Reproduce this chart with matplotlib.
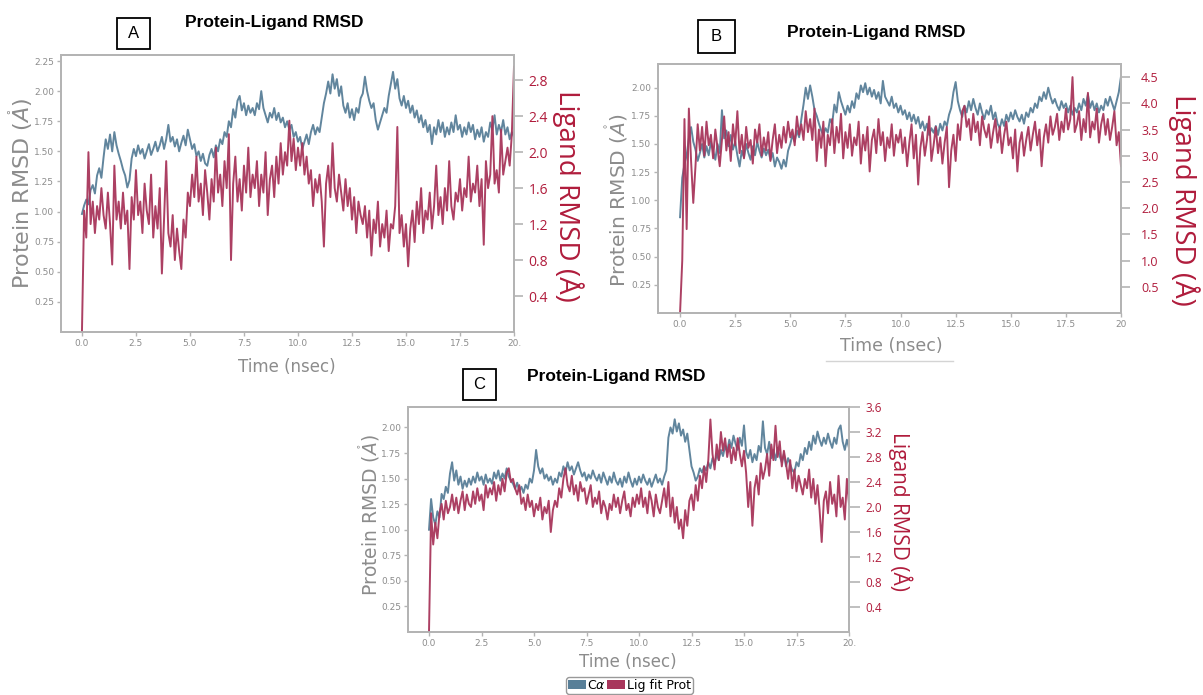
import numpy as np
import matplotlib.pyplot as plt
from matplotlib.patches import Patch, Rectangle
from matplotlib.lines import Line2D
from matplotlib import font_manager


########################  data  #####################
# one value every 0.1 ns, 0 .. 20 ns

a_calpha = [0.98, 1.05, 1.10, 1.06, 1.18, 1.22, 1.15, 1.30, 1.36, 1.28, 1.45, 1.60, 1.52, 1.64, 1.50, 1.66, 1.55, 1.48, 1.42, 1.35,
            1.30, 1.20, 1.26, 1.44, 1.52, 1.46, 1.55, 1.48, 1.52, 1.44, 1.50, 1.56, 1.47, 1.52, 1.58, 1.50, 1.55, 1.62, 1.52, 1.60,
            1.72, 1.58, 1.62, 1.54, 1.60, 1.50, 1.57, 1.63, 1.55, 1.68, 1.60, 1.52, 1.56, 1.46, 1.50, 1.42, 1.48, 1.40, 1.38, 1.47,
            1.52, 1.45, 1.55, 1.50, 1.60, 1.56, 1.66, 1.62, 1.75, 1.70, 1.85, 1.78, 1.92, 1.96, 1.84, 1.90, 1.80, 1.88, 1.82, 1.86,
            1.80, 1.90, 1.85, 2.00, 1.86, 1.80, 1.74, 1.82, 1.78, 1.86, 1.76, 1.82, 1.74, 1.78, 1.70, 1.75, 1.68, 1.72, 1.62, 1.66,
            1.58, 1.62, 1.52, 1.58, 1.64, 1.56, 1.66, 1.72, 1.64, 1.70, 1.66, 1.78, 1.90, 1.98, 2.08, 1.98, 2.14, 2.02, 2.10, 1.96,
            2.04, 1.88, 1.82, 1.90, 1.78, 1.85, 1.76, 1.86, 1.82, 1.94, 1.98, 2.12, 2.00, 1.92, 1.86, 1.90, 1.76, 1.68, 1.74, 1.80,
            1.86, 1.82, 1.96, 2.06, 2.16, 2.02, 2.10, 1.94, 1.88, 1.96, 1.86, 1.92, 1.82, 1.88, 1.78, 1.84, 1.74, 1.80, 1.70, 1.76,
            1.66, 1.72, 1.56, 1.70, 1.64, 1.76, 1.66, 1.74, 1.62, 1.70, 1.64, 1.74, 1.66, 1.80, 1.68, 1.72, 1.62, 1.70, 1.64, 1.74,
            1.66, 1.72, 1.60, 1.68, 1.62, 1.70, 1.58, 1.66, 1.62, 1.74, 1.68, 1.80, 1.64, 1.72, 1.66, 1.76, 1.64, 1.70, 1.60, 1.66,
            1.62]

a_ligand = [0.00, 1.35, 1.05, 2.00, 1.20, 1.45, 1.10, 1.40, 1.25, 1.60, 1.30, 1.15, 1.55, 1.20, 0.75, 1.85, 1.25, 1.45, 1.15, 1.55,
            1.20, 1.35, 0.70, 1.50, 1.25, 1.80, 1.30, 1.45, 1.10, 1.65, 1.35, 1.20, 1.75, 1.05, 1.40, 1.15, 1.60, 0.65, 1.25, 1.90,
            1.10, 0.95, 1.30, 0.80, 1.15, 0.90, 0.70, 1.25, 1.05, 1.55, 1.40, 1.75, 1.50, 1.95, 1.45, 1.65, 1.30, 1.80, 1.55, 1.25,
            1.70, 1.45, 2.05, 1.55, 1.75, 1.40, 1.90, 1.60, 2.20, 0.80, 1.65, 1.95, 1.45, 1.70, 1.35, 1.85, 1.55, 2.05, 1.50, 1.75,
            1.60, 1.90, 1.40, 1.75, 1.55, 2.00, 1.30, 1.70, 1.85, 1.50, 1.95, 1.65, 2.10, 1.75, 2.00, 1.85, 2.35, 1.90, 2.15, 1.80,
            2.05, 1.85, 2.10, 1.75, 1.95, 1.65, 1.80, 1.40, 1.70, 1.55, 1.75, 1.45, 0.95, 1.65, 1.85, 1.50, 2.10, 1.60, 1.45, 1.75,
            1.55, 1.35, 1.70, 1.40, 1.60, 1.25, 1.50, 1.10, 1.45, 1.30, 1.20, 1.40, 1.05, 1.35, 0.85, 1.25, 1.10, 1.45, 0.95, 1.20,
            1.05, 1.35, 0.90, 1.20, 1.15, 1.40, 2.28, 1.10, 1.30, 0.95, 1.20, 0.73, 1.15, 1.35, 1.00, 1.45, 1.20, 1.60, 1.10, 1.35,
            1.25, 1.55, 1.15, 1.40, 1.85, 1.30, 1.50, 1.20, 1.60, 1.35, 1.90, 1.40, 1.25, 1.55, 1.45, 1.70, 1.35, 1.60, 1.50, 1.95,
            1.45, 1.65, 1.55, 1.85, 1.40, 1.70, 0.97, 1.90, 1.60, 1.75, 2.40, 1.65, 1.80, 1.55, 2.25, 1.75, 1.90, 2.05, 1.85, 2.20,
            2.95]

b_calpha = [0.85, 1.20, 1.32, 1.40, 1.55, 1.65, 1.52, 1.45, 1.35, 1.42, 1.50, 1.38, 1.48, 1.40, 1.52, 1.44, 1.36, 1.50, 1.42, 1.80,
            1.55, 1.62, 1.48, 1.58, 1.45, 1.52, 1.40, 1.30, 1.44, 1.38, 1.50, 1.42, 1.36, 1.48, 1.40, 1.52, 1.44, 1.38, 1.46, 1.40,
            1.45, 1.36, 1.42, 1.30, 1.38, 1.34, 1.28, 1.36, 1.30, 1.44, 1.50, 1.58, 1.52, 1.62, 1.56, 1.72, 1.85, 2.00, 1.90, 2.02,
            1.92, 1.80, 1.75, 1.68, 1.62, 1.58, 1.64, 1.60, 1.72, 1.68, 1.85, 1.78, 1.96, 1.88, 1.82, 1.76, 1.84, 1.78, 1.88, 1.82,
            1.95, 1.90, 2.02, 1.96, 2.04, 1.94, 2.00, 1.92, 1.98, 1.90, 1.96, 1.86, 2.06, 1.92, 1.88, 1.84, 1.92, 1.82, 1.86, 1.78,
            1.84, 1.76, 1.80, 1.72, 1.78, 1.70, 1.76, 1.68, 1.74, 1.64, 1.70, 1.62, 1.68, 1.58, 1.64, 1.60, 1.66, 1.58, 1.68, 1.62,
            1.70, 1.66, 1.76, 1.82, 1.96, 2.05, 1.88, 1.80, 1.74, 1.84, 1.78, 1.88, 1.80, 1.90, 1.82, 1.76, 1.86, 1.78, 1.72, 1.80,
            1.76, 1.84, 1.72, 1.78, 1.68, 1.64, 1.72, 1.66, 1.76, 1.70, 1.78, 1.72, 1.80, 1.74, 1.70, 1.76, 1.68, 1.78, 1.74, 1.82,
            1.78, 1.86, 1.82, 1.92, 1.88, 1.96, 1.90, 2.00, 1.92, 1.86, 1.90, 1.84, 1.80, 1.88, 1.82, 1.86, 1.78, 1.84, 1.76, 1.82,
            1.78, 1.86, 1.80, 1.90, 1.84, 1.94, 1.82, 1.88, 1.80, 1.86, 1.78, 1.84, 1.80, 1.90, 1.84, 1.92, 1.86, 1.80, 1.88, 1.96,
            2.10]

b_ligand = [0.00, 1.00, 3.70, 1.60, 3.90, 2.90, 2.10, 2.80, 3.60, 3.10, 3.55, 3.00, 3.65, 3.20, 3.40, 2.95, 3.50, 3.15, 2.80, 3.30,
            3.75, 3.10, 3.45, 2.90, 3.60, 3.20, 3.85, 3.05, 3.40, 2.95, 3.55, 3.15, 3.30, 2.85, 3.50, 3.25, 3.60, 3.00, 3.35, 3.10,
            3.45, 2.90, 3.30, 3.60, 3.05, 3.40, 3.15, 3.55, 3.25, 3.65, 3.35, 3.50, 3.20, 3.75, 3.40, 3.60, 3.30, 3.85, 3.45, 3.70,
            3.30, 3.90, 2.90, 3.50, 3.15, 3.65, 2.80, 3.40, 3.20, 3.70, 3.05, 3.55, 3.25, 3.80, 2.95, 3.45, 3.15, 3.60, 3.00, 3.35,
            3.20, 3.65, 2.85, 3.40, 3.10, 3.55, 2.70, 3.30, 3.50, 3.05, 3.70, 3.20, 3.45, 2.90, 3.35, 3.15, 3.60, 3.00, 3.40, 3.25,
            3.50, 3.05, 3.35, 2.80, 3.25, 3.60, 2.95, 3.40, 2.45, 3.15, 3.45, 3.00, 3.30, 3.75, 2.90, 3.20, 3.55, 3.05, 3.35, 2.85,
            3.25, 3.55, 2.40, 3.10, 3.40, 2.90, 3.60, 3.30, 3.85, 3.95, 3.55, 3.70, 3.30, 3.80, 3.45, 3.65, 3.20, 3.75, 3.50, 3.35,
            3.60, 3.15, 3.45, 3.70, 3.25, 3.55, 3.05, 3.40, 3.65, 3.20, 3.35, 2.95, 3.50, 2.70, 3.25, 3.45, 3.00, 3.30, 3.55, 3.10,
            3.40, 3.65, 3.20, 3.50, 2.80, 3.35, 3.60, 3.25, 3.75, 3.40, 3.55, 3.80, 3.30, 3.65, 3.45, 3.90, 3.50, 3.70, 4.50, 3.45,
            3.60, 3.85, 3.30, 3.70, 3.45, 4.20, 3.35, 3.65, 3.50, 3.90, 3.25, 3.60, 3.80, 3.40, 3.70, 3.30, 3.55, 3.85, 3.20, 3.45,
            2.80]

c_calpha = [1.00, 1.30, 1.12, 1.05, 1.18, 1.12, 1.35, 1.30, 1.42, 1.36, 1.55, 1.66, 1.48, 1.58, 1.44, 1.52, 1.40, 1.48, 1.42, 1.50,
            1.44, 1.52, 1.46, 1.56, 1.48, 1.52, 1.44, 1.54, 1.46, 1.50, 1.45, 1.56, 1.50, 1.58, 1.48, 1.55, 1.50, 1.60, 1.52, 1.48,
            1.45, 1.40, 1.46, 1.38, 1.42, 1.36, 1.44, 1.40, 1.50, 1.46, 1.58, 1.78, 1.62, 1.55, 1.60, 1.50, 1.54, 1.48, 1.52, 1.44,
            1.50, 1.46, 1.56, 1.52, 1.62, 1.56, 1.66, 1.58, 1.62, 1.54, 1.60, 1.66, 1.58, 1.52, 1.56, 1.48, 1.54, 1.50, 1.58, 1.52,
            1.48, 1.54, 1.46, 1.56, 1.50, 1.44, 1.52, 1.46, 1.56, 1.48, 1.44, 1.50, 1.42, 1.52, 1.46, 1.56, 1.48, 1.42, 1.50, 1.44,
            1.52, 1.46, 1.54, 1.48, 1.44, 1.50, 1.42, 1.48, 1.54, 1.46, 1.50, 1.44, 1.52, 1.58, 1.90, 2.00, 1.94, 2.08, 1.96, 2.04,
            1.92, 1.98, 1.86, 1.94, 1.78, 1.62, 1.56, 1.48, 1.52, 1.60, 1.56, 1.62, 1.58, 1.66, 1.60, 1.70, 1.64, 1.74, 1.68, 1.78,
            1.72, 1.82, 1.76, 1.88, 1.80, 1.92, 1.84, 1.78, 1.90, 1.82, 2.02, 1.76, 1.70, 1.78, 1.66, 1.74, 1.68, 1.82, 1.76, 2.06,
            1.80, 1.74, 1.86, 1.70, 1.78, 1.68, 1.80, 1.72, 1.66, 1.74, 1.62, 1.70, 1.64, 1.58, 1.56, 1.66, 1.62, 1.74, 1.68, 1.80,
            1.74, 1.86, 1.78, 1.92, 1.84, 1.96, 1.88, 1.82, 1.90, 1.84, 1.94, 1.86, 1.80, 1.90, 1.84, 1.98, 2.02, 1.86, 1.78, 1.88,
            1.80]

c_ligand = [0.00, 1.90, 1.40, 1.75, 1.50, 1.90, 2.05, 1.80, 2.10, 1.90, 2.00, 2.20, 1.95, 2.15, 1.90, 2.10, 2.25, 1.95, 2.20, 2.05,
            2.00, 2.25, 2.05, 2.30, 2.10, 2.20, 1.95, 2.35, 2.15, 2.30, 2.20, 2.40, 2.10, 2.35, 2.20, 2.45, 2.25, 2.55, 2.62, 2.40,
            2.45, 2.30, 2.20, 2.35, 2.05, 2.15, 1.95, 2.20, 2.00, 2.10, 1.85, 2.05, 1.95, 2.15, 1.80, 2.00, 1.90, 2.10, 1.60, 1.95,
            2.10, 2.00, 2.30, 2.15, 2.45, 2.62, 2.35, 2.25, 2.50, 2.20, 2.35, 2.10, 2.40, 2.25, 2.30, 2.05, 2.20, 2.35, 2.00, 2.15,
            2.05, 2.25, 1.90, 2.10, 2.00, 1.80, 2.05, 1.95, 2.20, 2.00, 2.15, 1.90, 2.10, 2.25, 1.95, 2.05, 1.85, 2.15, 2.00, 2.20,
            2.05, 2.30, 2.00, 2.15, 1.90, 2.25, 2.10, 1.85, 2.20, 2.00, 1.90, 2.10, 2.30, 2.00, 2.40, 1.85, 2.15, 1.75, 2.00, 1.65,
            1.80, 1.50, 1.95, 1.70, 2.10, 2.20, 1.95, 2.35, 2.10, 2.50, 2.30, 2.65, 2.40, 2.75, 3.40, 2.85, 2.60, 3.00, 2.75, 3.20,
            2.90, 3.10, 2.80, 3.00, 2.70, 2.95, 2.75, 3.10, 2.85, 2.65, 2.90, 2.55, 2.00, 2.40, 1.70, 2.30, 2.50, 2.20, 2.70, 2.45,
            2.60, 2.85, 2.50, 3.00, 2.75, 3.30, 2.80, 3.05, 2.65, 2.90, 2.70, 2.45, 2.75, 2.30, 2.60, 2.25, 2.50, 2.35, 2.20, 2.45,
            2.30, 2.60, 2.15, 2.45, 2.05, 2.35, 1.95, 1.44, 2.10, 2.25, 1.90, 2.40, 2.05, 2.20, 1.85, 2.50, 2.00, 2.15, 1.80, 2.45,
            2.05]

time_ticks = [0, 2.5, 5, 7.5, 10, 12.5, 15, 17.5, 20]
time_labels_cut = ['0.0', '2.5', '5.0', '7.5', '10.0', '12.5', '15.0', '17.5', '20.']
time_labels_b = ['0.0', '2.5', '5.0', '7.5', '10.0', '12.5', '15.0', '17.5', '20']
protein_ticks_a = [0.25, 0.50, 0.75, 1.00, 1.25, 1.50, 1.75, 2.00, 2.25]
protein_ticks_bc = [0.25, 0.50, 0.75, 1.00, 1.25, 1.50, 1.75, 2.00]
ligand_ticks_a = [0.4, 0.8, 1.2, 1.6, 2.0, 2.4, 2.8]
ligand_ticks_b = [0.5, 1.0, 1.5, 2.0, 2.5, 3.0, 3.5, 4.0, 4.5]
ligand_ticks_c = [0.4, 0.8, 1.2, 1.6, 2.0, 2.4, 2.8, 3.2, 3.6]

legend_labels = [r'C$\alpha$', 'Lig fit Prot']


########################  styling  #####################

CA_COLOR = '#587f98'
LIG_COLOR = '#a8365b'
RED_TEXT = '#b01c3c'
GRAY_TEXT = '#8c8c8c'
SPINE = '#b4b4b4'
LW = 1.4

W, H = 1203, 695


def have_font(name):
    try:
        font_manager.findfont(name, fallback_to_default=False)
        return True
    except Exception:
        return False


narrow = have_font('Liberation Sans Narrow')
TITLE_FONT = 'Liberation Sans Narrow' if narrow else 'Liberation Sans'
TITLE_SIZE = 15 if narrow else 12.5
TICK_FONT = 'Liberation Sans Narrow' if narrow else 'DejaVu Sans'
TICK_SIZE = 7.5 if narrow else 6.5
RIGHT_FONT = 'Open Sans'

fig = plt.figure(figsize=(W / 100, H / 100), dpi=100)


def fx(px):
    return px / W


def fy(py):
    return 1 - py / H


def panel(box, ca, lig, xlim, ylim_l, ylim_r, lticks, rticks, xlabels, rsize, rtick_len, rpad):
    left, top, right, bottom = box
    ax = fig.add_axes([fx(left), fy(bottom), (right - left) / W, (bottom - top) / H])
    ax.plot(np.linspace(0, 20, len(ca)), ca, color=CA_COLOR, lw=LW, alpha=0.95)
    ax.set_xlim(*xlim)
    ax.set_ylim(*ylim_l)
    ax.set_xticks(time_ticks)
    ax.set_xticklabels(xlabels)
    ax.set_yticks(lticks)
    ax.set_yticklabels([f'{v:.2f}' for v in lticks])
    ax.tick_params(axis='both', colors=SPINE, labelcolor=GRAY_TEXT, length=3, width=1,
                   labelsize=TICK_SIZE, pad=2)
    for lab in ax.get_xticklabels() + ax.get_yticklabels():
        lab.set_family(TICK_FONT)

    ax2 = ax.twinx()
    ax2.plot(np.linspace(0, 20, len(lig)), lig, color=LIG_COLOR, lw=LW, alpha=0.95)
    ax2.set_ylim(*ylim_r)
    ax2.set_yticks(rticks)
    ax2.set_yticklabels([f'{v:.1f}' for v in rticks])
    ax2.tick_params(axis='y', colors=SPINE, labelcolor=RED_TEXT, length=rtick_len, width=1.2,
                    labelsize=rsize, pad=rpad)
    for lab in ax2.get_yticklabels():
        lab.set_family(RIGHT_FONT)

    for a in (ax, ax2):
        for s in a.spines.values():
            s.set_color(SPINE)
            s.set_linewidth(1.3)
    return ax


def header(letter, box, title_xy):
    l, t, r, b = box
    fig.add_artist(Rectangle((fx(l), fy(b)), (r - l) / W, (b - t) / H, transform=fig.transFigure,
                             fill=False, edgecolor='black', lw=1.3))
    fig.text(fx((l + r) / 2), fy((t + b) / 2), letter, ha='center', va='center',
             fontsize=12, family='Liberation Sans')
    fig.text(fx(title_xy[0]), fy(title_xy[1]), 'Protein-Ligand RMSD', ha='center', va='center',
             fontsize=TITLE_SIZE, fontweight='bold', family=TITLE_FONT)


def labels(xl, yl, rl, xsize, ysize, rsize):
    fig.text(fx(xl[0]), fy(xl[1]), 'Time (nsec)', ha='center', va='center',
             fontsize=xsize, color=GRAY_TEXT)
    fig.text(fx(yl[0]), fy(yl[1]), r'Protein RMSD ($\mathring{A}$)', ha='center', va='center',
             rotation=90, fontsize=ysize, color=GRAY_TEXT)
    fig.text(fx(rl[0]), fy(rl[1]), 'Ligand RMSD (Å)', ha='center', va='center',
             rotation=270, fontsize=rsize, color=RED_TEXT, family=RIGHT_FONT)


########################  panel A  #####################
panel((61, 55, 514, 332), a_calpha, a_ligand, (-0.97, 20), (0, 2.30), (0, 3.08),
      protein_ticks_a, ligand_ticks_a, time_labels_cut, 10, 6.5, 4)
header('A', (117, 18, 150, 49), (274, 23))
labels((287, 367), (21, 193), (568, 196), 12, 16, 20)

########################  panel B  #####################
panel((658, 64, 1121, 313), b_calpha, b_ligand, (-1.0, 20), (0, 2.21), (0, 4.75),
      protein_ticks_bc, ligand_ticks_b, time_labels_b, 9, 6.5, 8)
header('B', (698, 20, 735, 53), (876, 33))
labels((891, 346), (617, 200), (1184, 200), 12.5, 14.5, 20)

########################  panel C  #####################
panel((408, 407, 849, 632), c_calpha, c_ligand, (-1.0, 20), (0, 2.2), (0, 3.6),
      protein_ticks_bc, ligand_ticks_c, time_labels_cut, 8.5, 8, 4)
header('C', (463, 369, 496, 400), (616, 377))
labels((628, 662), (369, 515), (900, 512), 12, 13.5, 15)

# stray rule under the B axis label and the shared legend
fig.add_artist(Line2D([fx(826), fx(953)], [fy(361), fy(361)], transform=fig.transFigure,
                      color='#d4d4d4', lw=1))
fig.legend(handles=[Patch(facecolor=CA_COLOR), Patch(facecolor=LIG_COLOR)], labels=legend_labels,
           ncol=2, loc='upper left', bbox_to_anchor=(fx(566), fy(677)), fontsize=9,
           handlelength=1.45, handleheight=0.75, handletextpad=0.1, columnspacing=0.1,
           borderpad=0.15, borderaxespad=0, edgecolor='#999999', framealpha=1)

plt.savefig('out.png', dpi=100)
